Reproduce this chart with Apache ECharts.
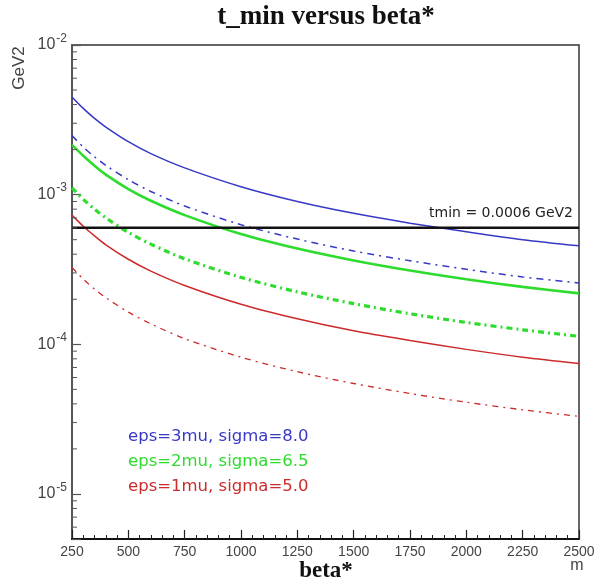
<!DOCTYPE html>
<html>
<head>
<meta charset="utf-8">
<script src="https://cdn.jsdelivr.net/npm/echarts@6/dist/echarts.min.js"></script>
<style>html,body{margin:0;padding:0;background:#fff}#c{width:596px;height:579px}</style>
</head>
<body>
<div id="c"></div>
<script>
// beta* values (m)
const betaValues = [250, 300, 350, 400, 500, 600, 750, 1000, 1250, 1500, 1750, 2000, 2250, 2500];
// t_min (GeV2)
const blueSolid  = [4.5e-3, 3.77e-3, 3.23e-3, 2.83e-3, 2.26e-3, 1.88e-3, 1.51e-3, 1.13e-3, 9.0e-4, 7.5e-4, 6.45e-4, 5.65e-4, 5.0e-4, 4.55e-4];
const blueDash   = [2.48e-3, 2.08e-3, 1.79e-3, 1.57e-3, 1.26e-3, 1.05e-3, 8.4e-4, 6.3e-4, 5.05e-4, 4.2e-4, 3.62e-4, 3.17e-4, 2.82e-4, 2.57e-4];
const greenSolid = [2.15e-3, 1.82e-3, 1.56e-3, 1.36e-3, 1.09e-3, 9.1e-4, 7.3e-4, 5.45e-4, 4.36e-4, 3.63e-4, 3.11e-4, 2.72e-4, 2.42e-4, 2.19e-4];
const greenDash  = [1.11e-3, 9.3e-4, 8.0e-4, 7.0e-4, 5.6e-4, 4.67e-4, 3.73e-4, 2.8e-4, 2.24e-4, 1.87e-4, 1.6e-4, 1.4e-4, 1.25e-4, 1.13e-4];
const redSolid   = [7.3e-4, 6.15e-4, 5.3e-4, 4.62e-4, 3.7e-4, 3.08e-4, 2.47e-4, 1.85e-4, 1.48e-4, 1.23e-4, 1.06e-4, 9.25e-5, 8.2e-5, 7.45e-5];
const redDash    = [3.26e-4, 2.73e-4, 2.34e-4, 2.05e-4, 1.64e-4, 1.37e-4, 1.09e-4, 8.2e-5, 6.56e-5, 5.47e-5, 4.69e-5, 4.1e-5, 3.65e-5, 3.3e-5];
const tminLine = 6e-4;
const legendTexts = ['eps=3mu, sigma=8.0', 'eps=2mu, sigma=6.5', 'eps=1mu, sigma=5.0'];

const BLUE = '#3838c6', GREEN = '#2edc2e', RED = '#cc2b2b';
const pairs = v => betaValues.map((b, i) => [b, v[i]]);

// minor tick values on the log axis (k x 10^n)
const minorVals = [];
for (let n = -6; n <= -3; n++) for (let k = 2; k <= 9; k++) {
  const v = k * Math.pow(10, n);
  if (v >= 5e-6 && v <= 1e-2) minorVals.push([250, v]);
}

function line(data, color, width, type) {
  return { type: 'line', data: pairs(data), showSymbol: false, smooth: 0.3, silent: true,
    lineStyle: { color, width, type }, z: 3 };
}

const chart = echarts.init(document.getElementById('c'));
chart.setOption({
  animation: false,
  backgroundColor: '#fff',
  grid: { left: 72, right: 17, top: 45, bottom: 40, containLabel: false, outerBoundsMode: 'none',
    show: true, borderColor: '#333', borderWidth: 1.5, backgroundColor: 'transparent' },
  xAxis: {
    type: 'value', min: 250, max: 2500, interval: 250,
    axisLine: { lineStyle: { color: '#111', width: 2 } },
    axisTick: { inside: true, length: 9, lineStyle: { color: '#222', width: 1.2 } },
    minorTick: { show: true, splitNumber: 5, length: 4, lineStyle: { color: '#222', width: 1 } },
    splitLine: { show: false },
    axisLabel: { margin: 6, fontSize: 14, fontFamily: 'Liberation Sans', color: '#444',
      formatter: v => String(v) }
  },
  yAxis: {
    type: 'log', logBase: 10, min: 5e-6, max: 1e-2,
    axisLine: { lineStyle: { color: '#555', width: 2 } },
    axisTick: { inside: true, length: 9, lineStyle: { color: '#555', width: 1.2 } },
    splitLine: { show: false },
    axisLabel: {
      margin: 5, fontSize: 16, fontFamily: 'Liberation Sans', color: '#444',
      formatter: function (v) {
        const l = Math.log10(v);
        if (Math.abs(l - Math.round(l)) > 1e-6) return '';
        return '{b|10}{s|' + Math.round(l) + '}';
      },
      rich: {
        b: { fontSize: 16, fontFamily: 'Liberation Sans', color: '#444' },
        s: { fontSize: 12, fontFamily: 'Liberation Sans', color: '#444', padding: [0, 0, 13, 1] }
      }
    }
  },
  series: [
    line(blueSolid, BLUE, 1.5, 'solid'),
    line(blueDash, BLUE, 1.5, [7, 5, 2, 5]),
    line(greenSolid, GREEN, 2.6, 'solid'),
    line(greenDash, GREEN, 3.2, [6, 4, 2, 4]),
    line(redSolid, RED, 1.5, 'solid'),
    line(redDash, RED, 1.3, [6, 5, 2, 5]),
    {
      type: 'line', data: [[250, tminLine], [2500, tminLine]], showSymbol: false, silent: true,
      lineStyle: { color: '#111', width: 2.5 }, z: 4
    },
    {
      type: 'custom', silent: true, z: 5, clip: false,
      data: minorVals,
      renderItem: function (params, api) {
        const p = api.coord([api.value(0), api.value(1)]);
        return { type: 'line', shape: { x1: p[0], y1: p[1], x2: p[0] + 5, y2: p[1] },
          style: { stroke: '#555', lineWidth: 1 } };
      }
    }
  ],
  graphic: [
    { type: 'text', style: { text: 't_min versus beta*', x: 326, y: 17, textAlign: 'center', textVerticalAlign: 'middle', font: 'bold 27px "Liberation Serif"', fill: '#111' } },
    { type: 'text', x: 19, y: 68, rotation: Math.PI / 2, style: { text: 'GeV2', textAlign: 'center', textVerticalAlign: 'middle', font: '17px "Liberation Sans"', fill: '#444' } },
    { type: 'text', style: { text: 'beta*', x: 326, y: 571, textAlign: 'center', textVerticalAlign: 'middle', font: 'bold 23px "Liberation Serif"', fill: '#111' } },
    { type: 'text', style: { text: 'm', x: 577, y: 566, textAlign: 'center', textVerticalAlign: 'middle', font: '16px "Liberation Sans"', fill: '#444' } },
    { type: 'text', style: { text: 'tmin = 0.0006 GeV2', x: 573, y: 213, textAlign: 'right', textVerticalAlign: 'middle', font: '14px "DejaVu Sans"', fill: '#222' } },
    { type: 'text', style: { text: legendTexts[0], x: 128, y: 437, textAlign: 'left', textVerticalAlign: 'middle', font: '16.5px "DejaVu Sans"', fill: BLUE } },
    { type: 'text', style: { text: legendTexts[1], x: 128, y: 462, textAlign: 'left', textVerticalAlign: 'middle', font: '16.5px "DejaVu Sans"', fill: GREEN } },
    { type: 'text', style: { text: legendTexts[2], x: 128, y: 487, textAlign: 'left', textVerticalAlign: 'middle', font: '16.5px "DejaVu Sans"', fill: RED } }
  ]
});
</script>
</body>
</html>
